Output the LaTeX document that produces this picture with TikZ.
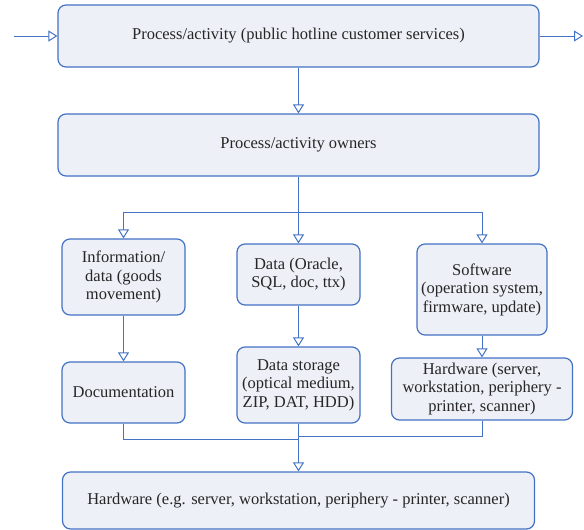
\documentclass[tikz,border=0pt]{standalone}
\usepackage{fontspec}
\setmainfont{Liberation Serif}
\usetikzlibrary{arrows.meta}
\definecolor{lineblue}{RGB}{68,114,196}
\definecolor{boxfill}{RGB}{237,240,246}
\begin{document}
\begin{tikzpicture}[x=1pt,y=-1pt,
  box/.style={draw=lineblue, fill=boxfill, line width=1.2pt, rounded corners=8pt,
    align=center, inner sep=1pt, font=\fontsize{16.5}{18.5}\selectfont, text=black!85},
  conn/.style={draw=lineblue, line width=1pt},
  arr/.style={conn, -{Triangle[open, length=9pt, width=11pt, line width=1pt]}}]
\useasboundingbox (0,0) rectangle (584,530);
\node[box, minimum width=481pt, minimum height=62pt] (top) at (298.5,36) {Process/activity (public hotline customer services)};
\node[box, minimum width=481pt, minimum height=62pt] (own) at (298.5,145) {Process/activity owners};
\node[box, minimum width=123pt, minimum height=76pt] (info) at (123.5,277) {Information/\\data (goods\\movement)};
\node[box, minimum width=123pt, minimum height=61pt] (data) at (298.5,274.5) {Data (Oracle,\\SQL, doc, ttx)};
\node[box, minimum width=130pt, minimum height=91pt] (soft) at (482,289.5) {Software\\(operation system,\\firmware, update)};
\node[box, minimum width=123pt, minimum height=61pt] (doc) at (123.5,392.5) {Documentation};
\node[box, minimum width=123pt, minimum height=76pt] (stor) at (298.5,385) {Data storage\\(optical medium,\\ZIP, DAT, HDD)};
\node[box, minimum width=181pt, minimum height=62pt] (hwr) at (482,389) {Hardware (server,\\workstation, periphery -\\printer, scanner)};
\node[box, minimum width=472pt, minimum height=57pt] (bot) at (298.5,500.5) {Hardware (e.g. server, workstation, periphery - printer, scanner)};
\coordinate (in) at (14,36);
\coordinate (out) at (583,36);
\coordinate (br) at (298.5,212);
\coordinate (jl) at (298.5,439);
\coordinate (jr) at (298.5,436);
\draw[arr] (in) -- (top.west);
\draw[arr] (top.east) -- (out);
\draw[arr] (top.south) -- (own.north);
\draw[conn] (own.south) -- (br);
\draw[arr] (br) -| (info.north);
\draw[arr] (br) -| (soft.north);
\draw[arr] (br) -- (data.north);
\draw[arr] (info.south) -- (doc.north);
\draw[arr] (data.south) -- (stor.north);
\draw[arr] (soft.south) -- (hwr.north);
\draw[conn] (doc.south) |- (jl);
\draw[conn] (hwr.south) |- (jr);
\draw[arr] (stor.south) -- (bot.north);
\end{tikzpicture}
\end{document}
